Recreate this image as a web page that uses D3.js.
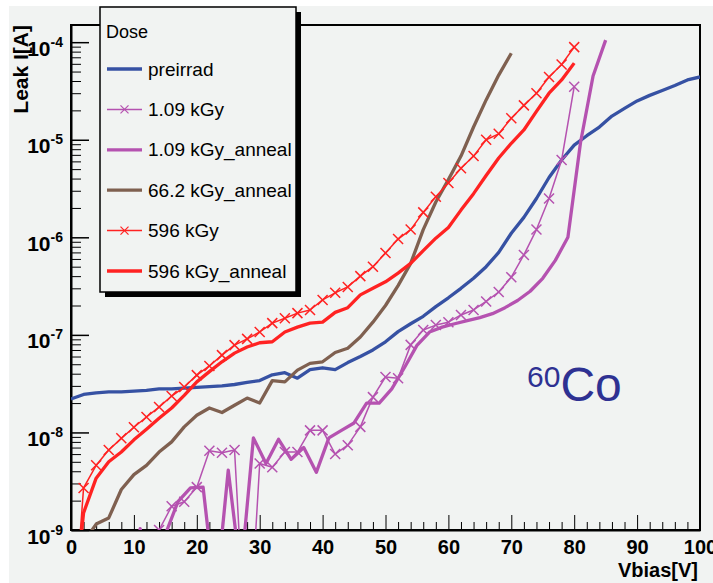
<!DOCTYPE html>
<html><head><meta charset="utf-8">
<script src="https://cdn.jsdelivr.net/npm/d3@7"></script>
<style>
body{margin:0;background:#fff;}
svg{display:block;font-family:"Liberation Sans",Arial,Helvetica,sans-serif;}
</style></head><body>
<svg id="svg" width="713" height="583"></svg>
<script>
// voltage grids [V]
var vEven0  = [0,2,4,6,8,10,12,14,16,18,20,22,24,26,28,30,32,34,36,38,40,42,44,46,48,50,52,54,56,58,60,62,64,66,68,70,72,74,76,78,80,82,84,86,88,90,92,94,96,98,100];
var v109    = [12,14,16,18,20,22,24,26,28,30,32,34,36,38,40,42,44,46,48,50,52,54,56,58,60,62,64,66,68,70,72,74,76,78,80];
var v109a   = [9,11,13,15,17,19,21,23,25,27,29,31,33,35,37,39,41,43,45,47,49,51,53,55,57,59,61,63,65,67,69,71,73,75,77,79,81,83,85];
var v662a   = [2,4,6,8,10,12,14,16,18,20,22,24,26,28,30,32,34,36,38,40,42,44,46,48,50,52,54,56,58,60,62,64,66,68,70];
var v596    = [0,2,4,6,8,10,12,14,16,18,20,22,24,26,28,30,32,34,36,38,40,42,44,46,48,50,52,54,56,58,60,62,64,66,68,70,72,74,76,78,80];

// leakage current [A]
var iPre = [2.2e-8,2.45e-8,2.55e-8,2.6e-8,2.6e-8,2.65e-8,2.7e-8,2.8e-8,2.8e-8,2.85e-8,2.9e-8,2.95e-8,3.0e-8,3.1e-8,3.25e-8,3.4e-8,3.9e-8,4.1e-8,3.6e-8,4.4e-8,4.6e-8,4.4e-8,5.2e-8,6.0e-8,7.0e-8,8.5e-8,1.08e-7,1.3e-7,1.55e-7,1.95e-7,2.4e-7,3.0e-7,3.8e-7,5.0e-7,7.0e-7,1.1e-6,1.6e-6,2.5e-6,4.1e-6,6.2e-6,8.8e-6,1.1e-5,1.35e-5,1.75e-5,2.1e-5,2.5e-5,2.85e-5,3.2e-5,3.6e-5,4.1e-5,4.4e-5];
var i109 = [2e-10,1.0e-9,1.75e-9,1.95e-9,2.75e-9,6.5e-9,6.2e-9,6.6e-9,3e-11,4.8e-9,4.4e-9,6.3e-9,6.3e-9,1.05e-8,1.05e-8,6.0e-9,7.4e-9,1.14e-8,2.3e-8,3.7e-8,3.6e-8,7.9e-8,1.12e-7,1.26e-7,1.35e-7,1.6e-7,1.8e-7,2.2e-7,2.75e-7,3.9e-7,6.6e-7,1.2e-6,2.5e-6,6.2e-6,3.5e-5];
var i109a = [1e-10,1.03e-9,1e-10,9e-10,1.95e-9,2.7e-9,2.75e-9,2e-10,4.1e-9,3.5e-10,8.8e-9,4.8e-9,8.5e-9,5.3e-9,7.0e-9,3.9e-9,8.8e-9,1.05e-8,1.25e-8,2.0e-8,2.0e-8,2.8e-8,4.6e-8,7.8e-8,1.07e-7,1.2e-7,1.3e-7,1.4e-7,1.5e-7,1.65e-7,1.9e-7,2.25e-7,2.8e-7,3.8e-7,5.8e-7,1.0e-6,9.3e-6,4.5e-5,1.05e-4];
var i662a = [7.5e-10,1.15e-9,1.33e-9,2.6e-9,3.7e-9,4.6e-9,6.3e-9,8.0e-9,1.14e-8,1.5e-8,1.78e-8,1.6e-8,1.9e-8,2.25e-8,2.0e-8,3.4e-8,3.3e-8,4.35e-8,5.1e-8,5.3e-8,6.6e-8,7.3e-8,9.5e-8,1.35e-7,2.0e-7,3.2e-7,5.4e-7,1.2e-6,2.3e-6,3.9e-6,6.8e-6,1.35e-5,2.56e-5,4.6e-5,7.7e-5];
var i596 = [5e-11,2.7e-9,4.6e-9,6.6e-9,8.7e-9,1.13e-8,1.44e-8,1.82e-8,2.36e-8,2.92e-8,3.87e-8,4.8e-8,6.2e-8,7.85e-8,9.1e-8,1.07e-7,1.32e-7,1.48e-7,1.67e-7,1.8e-7,2.28e-7,2.7e-7,3.1e-7,4.0e-7,5.0e-7,6.9e-7,9.6e-7,1.2e-6,1.8e-6,2.6e-6,3.6e-6,5.1e-6,6.8e-6,1.0e-5,1.15e-5,1.66e-5,2.25e-5,3.0e-5,4.4e-5,5.9e-5,8.9e-5];
var i596a = [9e-11,1.5e-9,3.4e-9,5.0e-9,6.3e-9,8.4e-9,1.08e-8,1.4e-8,1.78e-8,2.4e-8,3.3e-8,4.2e-8,5.3e-8,6.5e-8,7.5e-8,8.3e-8,8.5e-8,1.07e-7,1.2e-7,1.32e-7,1.35e-7,1.7e-7,1.9e-7,2.57e-7,3.0e-7,3.5e-7,4.3e-7,5.4e-7,7.3e-7,9.8e-7,1.26e-6,1.9e-6,2.8e-6,4.3e-6,6.5e-6,9.2e-6,1.26e-5,1.95e-5,3.0e-5,4.1e-5,6.1e-5];

var names  = ["preirrad","1.09 kGy","1.09 kGy_anneal","66.2 kGy_anneal","596 kGy","596 kGy_anneal"];
var xTicks = [0,10,20,30,40,50,60,70,80,90,100];
var yTicks = [1e-9,1e-8,1e-7,1e-6,1e-5,1e-4];

var series = [[vEven0,iPre],[v109,i109],[v109a,i109a],[v662a,i662a],[v596,i596],[v596,i596a]]
    .map((s,k)=>({name:names[k], pts:s[0].map((v,j)=>[v,s[1][j]])}));
var style = [
    {c:"#3651a3", w:3.3, m:false},
    {c:"#b552b0", w:1.5, m:true},
    {c:"#b552b0", w:3.3, m:false},
    {c:"#7f6050", w:3.3, m:false},
    {c:"#ff2222", w:1.5, m:true},
    {c:"#ff2222", w:3.3, m:false}
];

var svg = d3.select("#svg"),
    defs = svg.append("defs");
var L=71, R=700, T=25, B=530;

var x = d3.scaleLinear().domain([0,100]).range([L,R]),
    y = d3.scaleLog().domain([1e-9,1.5e-4]).range([B,T]);

svg.append("rect").attr("x",9).attr("y",6).attr("width",704).attr("height",577).attr("fill","#f1f3f2");

defs.append("clipPath").attr("id","frame").append("rect")
    .attr("x",L).attr("y",T).attr("width",R-L).attr("height",B-T);

// frame
svg.append("rect").attr("x",L).attr("y",T).attr("width",R-L).attr("height",B-T)
    .attr("fill","none").attr("stroke","#000").attr("stroke-width",2);

// x axis: minor then major
var minorX = d3.range(0,101,2).filter(v=>v%10);
svg.append("g").attr("transform","translate(0,"+B+")")
    .call(d3.axisBottom(x).tickValues(minorX).tickSize(-8).tickSizeOuter(0).tickFormat(""))
    .call(g=>g.select(".domain").remove());
var gx = svg.append("g").attr("transform","translate(0,"+B+")")
    .call(d3.axisBottom(x).tickValues(xTicks).tickSize(-15).tickSizeOuter(0).tickPadding(10));
gx.select(".domain").attr("stroke-width",2);
gx.selectAll("text").attr("font-family",null).attr("font-size",20).attr("font-weight","bold")
    .attr("fill","#000").attr("dy",null).attr("y",24);

// y axis
var minorY = [];
yTicks.forEach(t=>{ for (var k=2;k<10;k++) if (t*k<=1.5e-4) minorY.push(t*k); });
svg.append("g").attr("transform","translate("+L+",0)")
    .call(d3.axisLeft(y).tickValues(minorY).tickSize(-10).tickSizeOuter(0).tickFormat(""))
    .call(g=>g.select(".domain").remove());
var gy = svg.append("g").attr("transform","translate("+L+",0)")
    .call(d3.axisLeft(y).tickValues(yTicks).tickSize(-18).tickSizeOuter(0).tickPadding(8).tickFormat(""));
gy.select(".domain").attr("stroke-width",2);
gy.selectAll(".tick line").attr("stroke-width",1.5);
gy.selectAll(".tick text").attr("dy",null).attr("y",13).attr("x",-8)
    .attr("font-family",null).attr("font-weight","bold").attr("fill","#000")
    .each(function(d){
        var t = d3.select(this);
        t.append("tspan").attr("font-size",21).text("10");
        t.append("tspan").attr("font-size",14).attr("dy",-9).text(Math.round(Math.log10(d)));
    });
svg.selectAll(".tick line").attr("stroke","#000");

// axis titles
svg.append("text").attr("transform","translate(28,"+T+") rotate(-90)")
    .attr("text-anchor","end").attr("font-size",21).attr("font-weight","bold").text("Leak I[A]");
svg.append("text").attr("x",698).attr("y",577).attr("text-anchor","end")
    .attr("font-size",20).attr("font-weight","bold").text("Vbias[V]");

// curves
var line = d3.line().x(d=>x(d[0])).y(d=>y(d[1]));
var plot = svg.append("g").attr("clip-path","url(#frame)");
var cross = "M-5,-5L5,5M-5,5L5,-5";
series.forEach((s,k)=>{
    var st = style[k];
    plot.append("path").datum(s.pts).attr("d",line)
        .attr("fill","none").attr("stroke",st.c).attr("stroke-width",st.w)
        .attr("stroke-linejoin","round");
    if (st.m) plot.selectAll(null).data(s.pts.filter(d=>d[1]>=1e-9)).enter()
        .append("path").attr("d",cross)
        .attr("transform",d=>"translate("+x(d[0])+","+y(d[1])+")")
        .attr("stroke",st.c).attr("stroke-width",1.5).attr("fill","none");
});

// 60Co label
var co = svg.append("text").attr("x",527).attr("y",401).attr("fill","#2e3192");
co.append("tspan").attr("font-size",30).attr("dy",-14).text("60");
co.append("tspan").attr("font-size",48).attr("dy",14).text("Co");

// legend
var lg = svg.append("g");
lg.append("rect").attr("x",105).attr("y",12).attr("width",196).attr("height",285).attr("fill","#000");
lg.append("rect").attr("x",100).attr("y",7).attr("width",196).attr("height",285)
    .attr("fill","#f1f3f2").attr("stroke","#000").attr("stroke-width",1.5);
lg.append("text").attr("x",106).attr("y",38).attr("font-size",18).text("Dose");
var items = lg.selectAll(null).data(series).enter().append("g")
    .attr("transform",(_,k)=>"translate(0,"+(69+k*40.4)+")");
items.append("line").attr("x1",107).attr("x2",142)
    .attr("stroke",(_,k)=>style[k].c).attr("stroke-width",(_,k)=>style[k].w);
items.filter((_,k)=>style[k].m).append("path").attr("d",cross)
    .attr("transform","translate(124.5,0) scale(0.8)")
    .attr("stroke",(_,k)=>style[[1,4][k]].c).attr("stroke-width",1.5).attr("fill","none");
items.append("text").attr("x",148).attr("y",6.5).attr("font-size",19).text(d=>d.name);
</script>
</body></html>
